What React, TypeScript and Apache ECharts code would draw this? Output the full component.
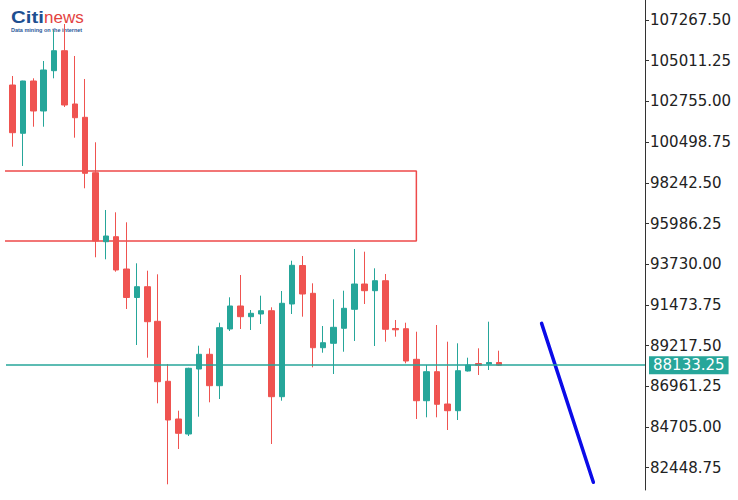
import React, { useEffect, useRef } from "react";
import * as echarts from "echarts";

// Candle values (index = bar number)
const opens = [
  103664, 100987, 103886, 102223, 104457, 105565, 102611, 101873, 98802, 94977,
  95255, 93464, 91884, 92483, 90565, 87239, 85149, 84317, 87920, 88735,
  86995, 90138, 91413, 90820, 90969, 91152, 86385, 91524, 93658, 92117,
  89101, 89345, 90177, 91230, 92632, 92261, 92815, 90166, 90154, 88458,
  86163, 87771, 85980, 85609, 87810, 88225, 88198, 88281,
];
const closes = [
  101020, 103886, 102223, 104496, 105565, 102555, 101851, 98769, 95016, 95293,
  93409, 91884, 92483, 90543, 87216, 85093, 84356, 87959, 88735, 86995,
  90210, 91413, 90820, 91008, 91152, 86385, 91563, 93669, 92078, 89101,
  89378, 90232, 91285, 92632, 92261, 92815, 90121, 90094, 88364, 86163,
  87771, 85964, 85609, 87826, 88142, 88131, 88281, 88133.25,
];
const lows = [
  100244, 99174, 101352, 101352, 104035, 102444, 100743, 97938, 94113, 94002,
  93314, 91247, 89251, 88547, 86019, 81529, 83486, 84206, 85276, 86074,
  86257, 90027, 90138, 90082, 90415, 83763, 86163, 90969, 90820, 88015,
  88824, 87643, 88879, 89473, 91524, 89195, 89434, 89711, 88236, 85149,
  85243, 85243, 84539, 85093, 87782, 87588, 87865, 88087,
];
const highs = [
  104163, 103900, 104035, 104994, 106713, 107046, 105272, 103997, 100488, 96735,
  96607, 96053, 93780, 93370, 93170, 88198, 85609, 87990, 89212, 89068,
  90487, 91895, 93131, 91191, 91984, 91341, 92244, 93924, 94185, 92671,
  90304, 91784, 92261, 94573, 94423, 93503, 93187, 90637, 90487, 89988,
  88142, 90360, 89434, 89345, 88547, 89068, 90543, 88935,
];

// Price axis tick labels
const priceTicks = [
  82448.75, 84705.0, 86961.25, 89217.5, 91473.75, 93730.0, 95986.25, 98242.5,
  100498.75, 102755.0, 105011.25, 107267.5,
];
const lastPrice = 88133.25;

// Supply/resistance zone
const zoneTop = 98896;
const zoneBottom = 95016;
const zoneStart = -1;
const zoneEnd = 39;

// Projection line
const projX = [51.1, 56.1];
const projY = [90450, 81640];

const UP = "#26a69a";
const DOWN = "#ef5350";

export default function App() {
  const ref = useRef<HTMLDivElement>(null);
  useEffect(() => {
    if (!ref.current) return;
    const chart = echarts.init(ref.current, null, { renderer: "svg" });
    const candleData = opens.map((o, i) => [i, o, closes[i], lows[i], highs[i]]);
    const zoneData = [
      [zoneStart, zoneTop],
      [zoneEnd, zoneTop],
      [zoneEnd, zoneBottom],
      [zoneStart, zoneBottom],
    ];
    const projData = projX.map((x, i) => [x, projY[i]]);
    chart.setOption({
      animation: false,
      backgroundColor: "#ffffff",
      grid: { left: 6, top: 0, right: 93, bottom: 10 },
      xAxis: {
        type: "value",
        min: -0.647,
        max: 61.09,
        show: false,
        axisLine: { onZero: false },
        splitLine: { show: false },
      },
      yAxis: {
        type: "value",
        position: "right",
        min: 81213,
        max: 108376,
        splitLine: { show: false },
        axisLine: {
          show: true,
          onZero: false,
          lineStyle: { color: "#333333", width: 1 },
        },
        axisTick: {
          show: true,
          inside: false,
          length: 4,
          lineStyle: { color: "#333333" },
          customValues: priceTicks,
        },
        axisLabel: {
          customValues: priceTicks,
          margin: 5,
          color: "#222222",
          fontSize: 15,
          fontFamily: "DejaVu Sans",
          formatter: (v: number) => v.toFixed(2),
        },
      },
      graphic: [
        {
          type: "text",
          left: 11,
          top: 9,
          scaleX: 1.2,
          style: {
            text: "Citi",
            font: 'bold 17px "Liberation Sans"',
            fill: "#1d4f91",
          },
        },
        {
          type: "text",
          left: 44,
          top: 9,
          style: {
            text: "news",
            font: '17px "Liberation Sans"',
            fill: "#e3433f",
          },
        },
        {
          type: "text",
          left: 11,
          top: 27,
          style: {
            text: "Data mining on the internet",
            font: 'bold 5.5px "Liberation Sans"',
            fill: "#2a5a9a",
          },
        },
      ],
      series: [
        {
          type: "line",
          data: zoneData,
          symbol: "none",
          clip: true,
          lineStyle: { color: "#ee4a4a", width: 1.5 },
          z: 1,
        },
        {
          type: "candlestick",
          data: candleData,
          barWidth: 6,
          itemStyle: {
            color: UP,
            color0: DOWN,
            borderColor: UP,
            borderColor0: DOWN,
            borderWidth: 1,
          },
          markLine: {
            silent: true,
            symbol: ["none", "none"],
            data: [
              {
                yAxis: lastPrice,
                lineStyle: { color: UP, width: 1.5, type: "solid" },
              },
            ],
            lineStyle: { color: UP, width: 1.5, type: "solid" },
            label: {
              show: true,
              position: "end",
              distance: 4,
              formatter: lastPrice.toFixed(2),
              backgroundColor: UP,
              color: "#ffffff",
              fontSize: 15,
              fontFamily: "DejaVu Sans",
              padding: [2, 4, 1, 4],
            },
          },
          z: 3,
        },
        {
          type: "line",
          data: projData,
          symbol: "none",
          lineStyle: { color: "#0b0be8", width: 3.5, cap: "round" },
          z: 4,
        },
      ],
    });
    return () => chart.dispose();
  }, []);
  return (
    <div
      ref={ref}
      style={{ position: "fixed", left: 0, top: 0, width: 738, height: 500 }}
    />
  );
}
